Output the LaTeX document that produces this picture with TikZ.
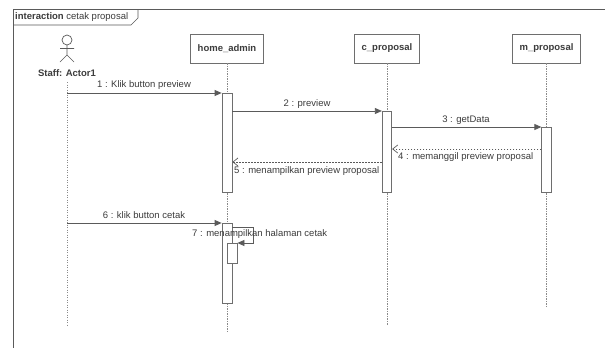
\documentclass[tikz,border=0pt]{standalone}
\usepackage{fontspec}
\setmainfont{Liberation Sans}
\usetikzlibrary{arrows.meta}
\definecolor{lineg}{HTML}{5A5A5A}
\definecolor{boxg}{HTML}{6E6E6E}
\definecolor{txtg}{HTML}{3C3C3C}
\definecolor{lifeg}{HTML}{8A8A8A}
\begin{document}
\begin{tikzpicture}[x=1pt,y=-1pt,font=\fontsize{9.5}{11}\selectfont,
  framestyle/.style={draw=lineg,line width=0.9pt},
  headbox/.style={draw=boxg,fill=white,line width=0.8pt,minimum height=29pt,inner sep=0pt,font=\fontsize{9.5}{11}\selectfont\bfseries,text=txtg},
  lifeline/.style={draw=lifeg,line width=0.9pt,dash pattern=on 1.2pt off 1.3pt},
  actbox/.style={draw=boxg,fill=white,line width=0.8pt},
  msg/.style={draw=lineg,line width=0.8pt,-{Triangle[length=7pt,width=6pt]}},
  retmsg/.style={draw=lineg,line width=0.7pt,dash pattern=on 1.5pt off 1.5pt,-{Straight Barb[length=5pt,width=8pt]}},
  lbl/.style={text=txtg,inner sep=0pt}]
\useasboundingbox (0,0) rectangle (605,348);
\fill[white] (0,0) rectangle (605,348);
% frame
\draw[framestyle] (605,9) -- (13,9) -- (13,348);
\draw[draw=lineg,line width=0.7pt] (13,25) -- (131,25) -- (138,18) -- (138,9);
\node[lbl,anchor=west] (title) at (15,17) {\textbf{interaction} cetak proposal};
% actor
\draw[draw=lineg,line width=0.7pt] (67,40) circle (5);
\draw[draw=lineg,line width=0.7pt] (67,45) -- (67,55) (60,48.5) -- (74,48.5) (60,62) -- (67,55) -- (74,62);
\node[lbl,font=\fontsize{9.5}{11}\selectfont\bfseries] (actor) at (67,73) {Staff: Actor1};
% heads
\node[headbox,minimum width=73pt] (home) at (227,48.5) {home\_admin};
\node[headbox,minimum width=65pt] (cprop) at (387,48.5) {c\_proposal};
\node[headbox,minimum width=68pt] (mprop) at (546.5,48.5) {m\_proposal};
% lifelines
\coordinate (aEnd) at (67,325);
\coordinate (hEnd) at (227,332);
\coordinate (cEnd) at (387,325);
\coordinate (mEnd) at (546.5,308);
\draw[lifeline] (67,82) -- (aEnd);
\draw[lifeline] (home.south) -- (hEnd);
\draw[lifeline] (cprop.south) -- (cEnd);
\draw[lifeline] (mprop.south) -- (mEnd);
% activations
\node[actbox,minimum width=10pt,minimum height=99pt,inner sep=0pt,anchor=north] (actH1) at (227,93) {};
\node[actbox,minimum width=9.5pt,minimum height=81pt,inner sep=0pt,anchor=north] (actC) at (387,111) {};
\node[actbox,minimum width=9.5pt,minimum height=65pt,inner sep=0pt,anchor=north] (actM) at (546.5,127) {};
\node[actbox,minimum width=10pt,minimum height=80pt,inner sep=0pt,anchor=north] (actH2) at (227,223) {};
\node[actbox,minimum width=10pt,minimum height=20pt,inner sep=0pt,anchor=north] (actH3) at (232,243) {};
% messages
\coordinate (m1s) at (67,93);
\draw[msg] (m1s) -- (actH1.north west);
\node[lbl] (l1) at (144,85) {1 : Klik button preview};
\coordinate (m2s) at (actH1.east |- 0,111);
\draw[msg] (m2s) -- (actC.north west);
\node[lbl] (l2) at (307,104) {2 : preview};
\coordinate (m3s) at (actC.east |- 0,127);
\draw[msg] (m3s) -- (actM.north west);
\node[lbl] (l3) at (466,120) {3 : getData};
\coordinate (m4s) at (actM.west |- 0,149);
\coordinate (m4e) at (actC.east |- 0,149);
\draw[retmsg] (m4s) -- (m4e);
\node[lbl,anchor=west] (l4) at (398,157) {4 : memanggil preview proposal};
\coordinate (m5s) at (actC.west |- 0,162);
\coordinate (m5e) at (actH1.east |- 0,162);
\draw[retmsg] (m5s) -- (m5e);
\node[lbl,anchor=west] (l5) at (234,171) {5 : menampilkan preview proposal};
\coordinate (m6s) at (67,223);
\draw[msg] (m6s) -- (actH2.north west);
\node[lbl] (l6) at (144,215) {6 : klik button cetak};
\coordinate (m7s) at (actH2.east |- 0,227);
\draw[msg] (m7s) -- (253,227) -- (253,243) -- (actH3.north east);
\node[lbl,anchor=west] (l7) at (192,234) {7 : menampilkan halaman cetak};
\end{tikzpicture}
\end{document}
